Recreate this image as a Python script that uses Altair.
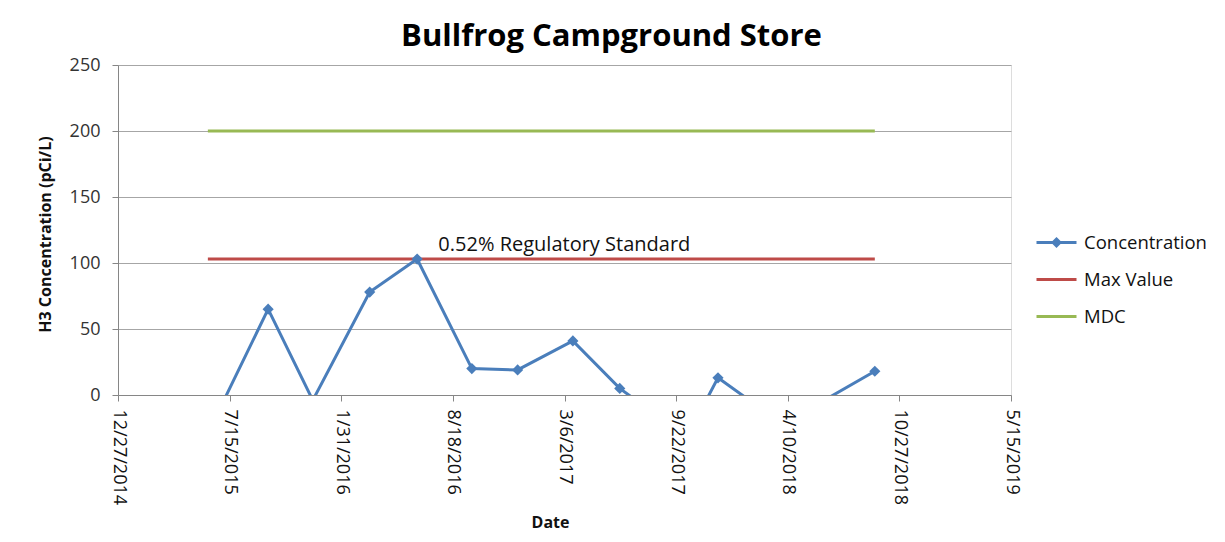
import altair as alt
import pandas as pd

# Concentration series (values below 0 are clipped by the axis, as in the original)
conc_dates = ["2015-06-06", "2015-09-22", "2015-12-11", "2016-03-22", "2016-06-15",
              "2016-09-21", "2016-12-12", "2017-03-21", "2017-06-13", "2017-10-11",
              "2017-12-06", "2018-04-01", "2018-09-13"]
conc_values = [-29, 65, -4, 78, 103, 20, 19, 41, 5, -32, 13, -22, 18]

# Reference lines
ref_names = ["Max Value", "MDC"]
ref_values = [103, 200]
ref_start = "2015-06-06"
ref_end = "2018-09-13"

series_names = ["Concentration", "Max Value", "MDC"]
series_colors = ["#4A7EBB", "#BE4B48", "#98B954"]
series_shapes = ["M-1,0H1M0,-0.17L0.17,0L0,0.17L-0.17,0Z", "M-1,0H1", "M-1,0H1"]

y_ticks = [0, 50, 100, 150, 200, 250]
x_tick_dates = [(2014, 12, 27), (2015, 7, 15), (2016, 1, 31), (2016, 8, 18), (2017, 3, 6),
                (2017, 9, 22), (2018, 4, 10), (2018, 10, 27), (2019, 5, 15)]

annot_text = "0.52% Regulatory Standard"
annot_date = "2016-07-23"
annot_value = 113.5

FONT = "Open Sans"

conc_df = pd.DataFrame({
    "date": pd.to_datetime(conc_dates),
    "value": conc_values,
})

def ref_df(i):
    return pd.DataFrame({
        "date": [pd.Timestamp(ref_start), pd.Timestamp(ref_end)],
        "value": [ref_values[i], ref_values[i]],
    })

legend_df = pd.DataFrame({
    "date": [pd.Timestamp(ref_start)] * 3,
    "value": [10000] * 3,
    "series": series_names,
})

annot_df = pd.DataFrame({"date": [pd.Timestamp(annot_date)], "value": [annot_value], "text": [annot_text]})

def dt(t):
    return alt.DateTime(year=t[0], month=t[1], date=t[2])

x_enc = alt.X(
    "date:T",
    scale=alt.Scale(domain=[dt(x_tick_dates[0]), dt(x_tick_dates[-1])], nice=False),
    axis=alt.Axis(
        values=[dt(t) for t in x_tick_dates],
        format="%-m/%-d/%Y",
        labelAngle=90,
        labelAlign="left",
        labelBaseline="middle",
        labelFontSize=18,
        labelFont=FONT,
        labelColor="#111111",
        labelPadding=8,
        labelOverlap=False,
        labelFlush=False,
        grid=False,
        domainColor="#868686",
        tickColor="#868686",
        tickSize=6,
        title="Date",
        titleFont=FONT,
        titleFontSize=16,
        titleFontWeight="bold",
        titleColor="#111111",
        titleX=432,
        titleY=127,
        titleBaseline="middle",
        titleAlign="center",
    ),
)

y_enc = alt.Y(
    "value:Q",
    scale=alt.Scale(domain=[0, 250], nice=False, zero=False),
    axis=alt.Axis(
        values=y_ticks,
        grid=True,
        gridColor="#A6A6A6",
        gridWidth=1,
        domainColor="#868686",
        tickColor="#868686",
        tickSize=6,
        labelFontSize=18,
        labelFont=FONT,
        labelColor="#333333",
        labelPadding=12,
        title="H3 Concentration (pCi/L)",
        titleFont=FONT,
        titleFontSize=16,
        titleFontWeight="bold",
        titleColor="#111111",
        titleAngle=-90,
        titleX=-73,
        titleY=169,
        titleAlign="center",
        titleBaseline="middle",
    ),
)

layers = []
for i in range(len(ref_names)):
    layers.append(
        alt.Chart(ref_df(i)).mark_line(strokeWidth=3, clip=True, color=series_colors[i + 1]).encode(
            x=x_enc, y=y_enc
        )
    )

conc_line = alt.Chart(conc_df).mark_line(strokeWidth=3, clip=True, color=series_colors[0]).encode(
    x=x_enc, y=y_enc
)

conc_points = alt.Chart(conc_df).transform_filter("datum.value >= 0").mark_point(
    shape="diamond", filled=True, size=125, opacity=1, clip=True, color=series_colors[0]
).encode(x=x_enc, y=y_enc)

legend_layer = alt.Chart(legend_df).mark_point(filled=False, strokeWidth=3, clip=True).encode(
    x=x_enc, y=y_enc,
    color=alt.Color(
        "series:N", scale=alt.Scale(domain=series_names, range=series_colors),
        legend=alt.Legend(
            title=None, orient="none", legendX=917, legendY=156,
            symbolSize=1600, symbolStrokeWidth=3, symbolOpacity=1,
            labelFontSize=18.5, labelFont=FONT, labelColor="#111111",
            labelOffset=6, rowPadding=6,
        ),
    ),
    shape=alt.Shape("series:N", scale=alt.Scale(domain=series_names, range=series_shapes)),
)

annot = alt.Chart(annot_df).mark_text(
    align="left", baseline="middle", fontSize=20, font=FONT, color="#111111"
).encode(x=x_enc, y=y_enc, text="text:N")

chart = alt.layer(*layers, conc_line, conc_points, annot, legend_layer).properties(
    width=893,
    height=330,
    autosize=alt.AutoSizeParams(type="none"),
    padding={"left": 110, "top": 57, "right": 206, "bottom": 139},
    title=alt.Title(
        "Bullfrog Campground Store",
        font=FONT, fontSize=31, fontWeight="bold", color="#000000",
        anchor="middle", dx=47, offset=3,
    ),
).configure_view(stroke=None).configure(background="white")

chart.save("out.html", embed_options={"renderer": "svg", "actions": False})
